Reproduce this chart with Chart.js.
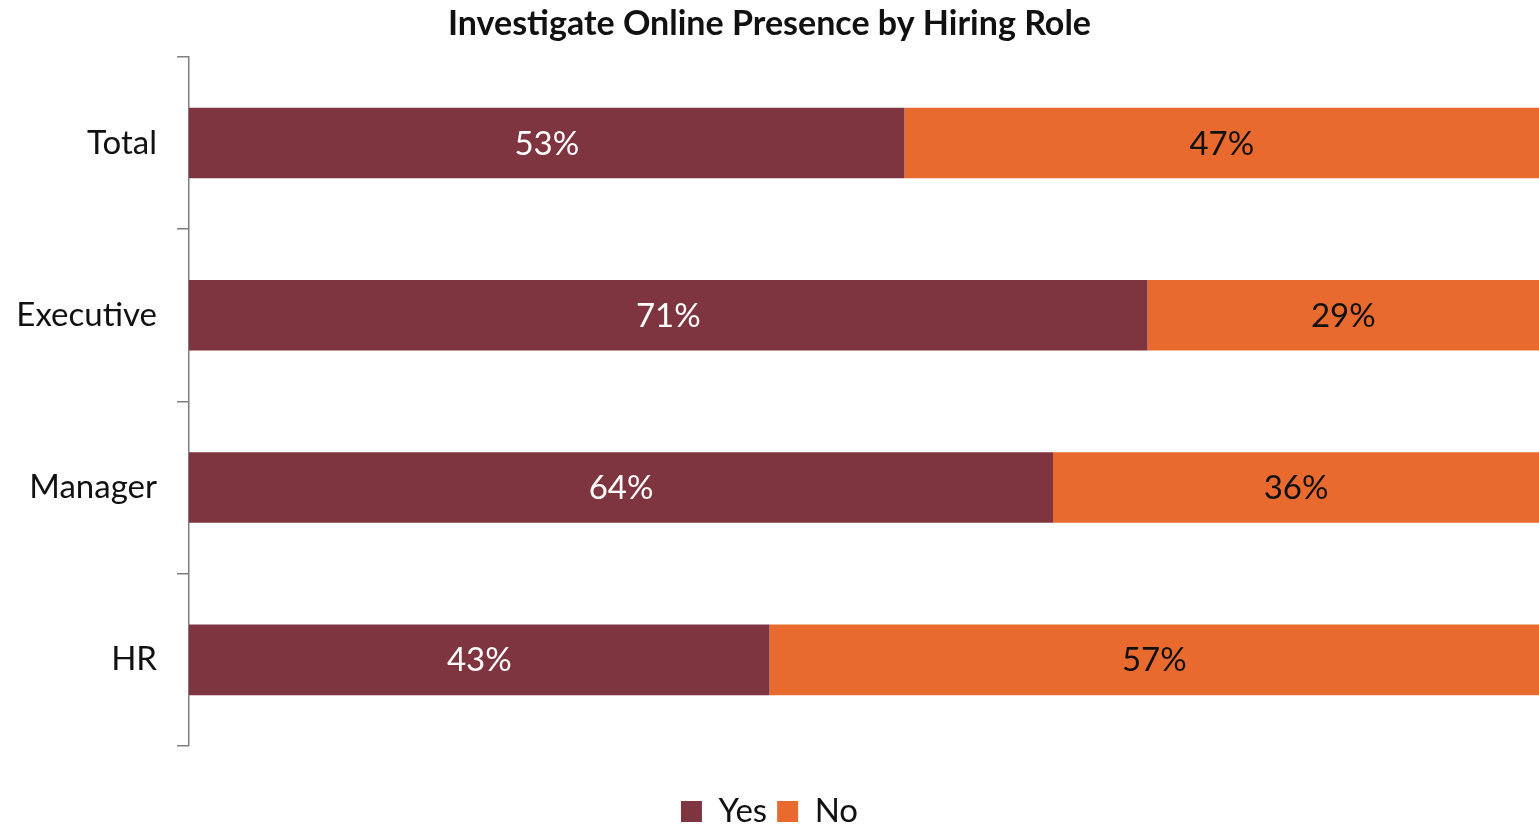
<!DOCTYPE html>
<html>
<head>
<meta charset="utf-8">
<script src="https://cdn.jsdelivr.net/npm/chart.js@4.4.1/dist/chart.umd.min.js"></script>
<style>
  html, body { margin: 0; padding: 0; background: #fff; }
  canvas { display: block; }
</style>
</head>
<body>
<canvas id="chartRoles" width="1539" height="825"></canvas>
<script>
const roles = ["Total", "Executive", "Manager", "HR"];
const yesValues = [53, 71, 64, 43];
const noValues = [47, 29, 36, 57];

// labels de pourcentage au centre de chaque barre
const barLabels = {
  id: "barLabels",
  afterDatasetsDraw(chart) {
    const ctx = chart.ctx;
    ctx.save();
    ctx.font = "33px Lato";
    ctx.textAlign = "center";
    ctx.textBaseline = "middle";
    chart.data.datasets.forEach((ds, i) => {
      const meta = chart.getDatasetMeta(i);
      meta.data.forEach((bar, j) => {
        const p = bar.getProps(["x", "y", "base"], true);
        ctx.fillStyle = i === 0 ? "#ffffff" : "#111111";
        ctx.fillText(ds.data[j] + "%", (p.x + p.base) / 2, p.y + 1);
      });
    });
    ctx.restore();
  },
};

var contextRoles = document.getElementById("chartRoles").getContext("2d");
var myChartRoles = new Chart(contextRoles, {
  type: "bar",
  data: {
    labels: roles,
    datasets: [
      {
        label: "Yes",
        data: yesValues,
        backgroundColor: "#7f3540",
        borderWidth: 0,
        barPercentage: 0.41,
        categoryPercentage: 1,
      },
      {
        label: "No",
        data: noValues,
        backgroundColor: "#e96a2e",
        borderWidth: 0,
        barPercentage: 0.41,
        categoryPercentage: 1,
      },
    ],
  },
  options: {
    indexAxis: "y",
    responsive: false,
    animation: false,
    layout: { padding: { left: 0, right: 0, top: 0, bottom: -13 } },
    plugins: {
      title: {
        display: true,
        text: "Investigate Online Presence by Hiring Role",
        color: "#111",
        font: { family: "Lato", size: 34, weight: "bold" },
        padding: { top: 4, bottom: 12 },
      },
      legend: {
        position: "bottom",
        labels: {
          color: "#111",
          font: { family: "Lato", size: 33 },
          boxWidth: 21,
          boxHeight: 21,
          padding: 10,
        },
      },
      tooltip: { enabled: false },
    },
    scales: {
      x: {
        stacked: true,
        min: 0,
        max: 100,
        display: true,
        afterFit(scale) { scale.height = 39; },
        border: { display: false },
        grid: { display: false },
        ticks: { display: false },
      },
      y: {
        stacked: true,
        afterFit(scale) { scale.width = 189; },
        border: { display: true, color: "#7f7f7f", width: 1.5 },
        grid: {
          drawOnChartArea: false,
          color: "#7f7f7f",
          lineWidth: 1.5,
          tickLength: 12,
        },
        ticks: {
          color: "#111",
          padding: 20,
          font: { family: "Lato", size: 33 },
        },
      },
    },
  },
  plugins: [barLabels],
});
</script>
</body>
</html>
